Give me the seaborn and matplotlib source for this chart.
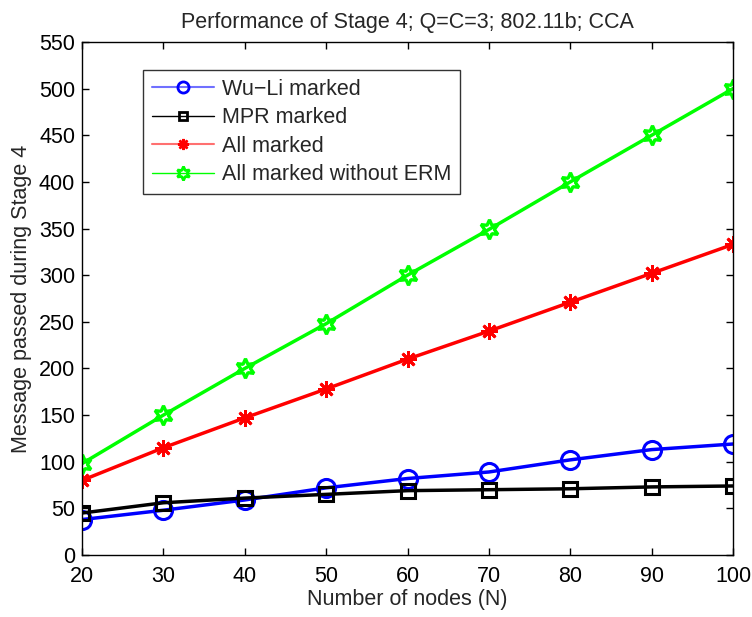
import matplotlib
matplotlib.use("Agg")
import matplotlib.pyplot as plt
import seaborn as sns
import pandas as pd
from matplotlib.lines import Line2D

nodes = [20, 30, 40, 50, 60, 70, 80, 90, 100]
wuli = [38, 48, 59, 72, 82, 89, 102, 113, 119]
mpr = [45, 56, 61, 65, 69, 70, 71, 73, 74]
allm = [80, 115, 147, 178, 210, 240, 271, 302, 333]
allnoerm = [98, 150, 200, 248, 300, 349, 400, 450, 500]
labels = ["Wu\u2212Li marked", "MPR marked", "All marked", "All marked without ERM"]

sns.set_theme(style="ticks")
plt.rcParams['font.family'] = ['Liberation Sans', 'DejaVu Sans']

fig = plt.figure(figsize=(7.52, 6.17), dpi=100)
ax = fig.add_axes([82/752, 1-555/617, 651/752, 513/617])

hexagram = (6, 1, 0)
series = [
    (wuli, "#0000ff", "o", dict(markerfacecolor="none", markersize=13, markeredgewidth=2.2)),
    (mpr, "#000000", "s", dict(markerfacecolor="none", markersize=10, markeredgewidth=2.2)),
    (allm, "#ff0000", (8, 2, 0), dict(markersize=12, markeredgewidth=2.0)),
    (allnoerm, "#00ff00", hexagram, dict(markerfacecolor="none", markersize=14, markeredgewidth=2.4)),
]
for vals, col, mk, kw in series:
    df = pd.DataFrame({"N": nodes, "v": vals})
    sns.lineplot(data=df, x="N", y="v", ax=ax, color=col, linewidth=2.5,
                 marker=mk, markeredgecolor=col, **kw)

ax.set_xlim(20, 100)
ax.set_ylim(0, 550)
ax.set_xticks(nodes)
ax.set_yticks(range(0, 551, 50))
ax.tick_params(axis="both", direction="in", length=5, labelsize=15.5, colors="black",
               top=True, right=True, width=1)
ax.tick_params(axis="x", pad=8)
ax.tick_params(axis="y", pad=5)
for s in ax.spines.values():
    s.set_visible(True)
    s.set_color("black")
    s.set_linewidth(1)
ax.set_xlabel("Number of nodes (N)", fontsize=15.5, labelpad=1)
ax.set_ylabel("Message passed during Stage 4", fontsize=15.5, labelpad=5)
ax.set_title("Performance of Stage 4; Q=C=3; 802.11b; CCA", fontsize=15.5, pad=10)

handles = [
    Line2D([], [], color="#7070ff", lw=1.5, marker="o", markersize=8, markerfacecolor="none",
           markeredgecolor="#0000ff", markeredgewidth=2),
    Line2D([], [], color="black", lw=1, marker="s", markersize=6, markerfacecolor="none",
           markeredgecolor="black", markeredgewidth=2),
    Line2D([], [], color="#ff7070", lw=1.5, marker=(8, 2, 0), markersize=8,
           markeredgecolor="#ff0000", markerfacecolor="#ff0000", markeredgewidth=1.8),
    Line2D([], [], color="#00ff00", lw=1, marker=hexagram, markersize=10, markerfacecolor="none",
           markeredgecolor="#00ff00", markeredgewidth=2),
]
leg = ax.legend(handles, labels, loc="upper left",
                bbox_to_anchor=((143 - 82) / 651, (555 - 70) / 513),
                fontsize=15.5, frameon=True, fancybox=False, edgecolor="black",
                handlelength=2.9, handletextpad=0.35, labelspacing=0.35, borderpad=0.4,
                borderaxespad=0)
leg.get_frame().set_linewidth(1)

fig.savefig("out.png", dpi=100)
